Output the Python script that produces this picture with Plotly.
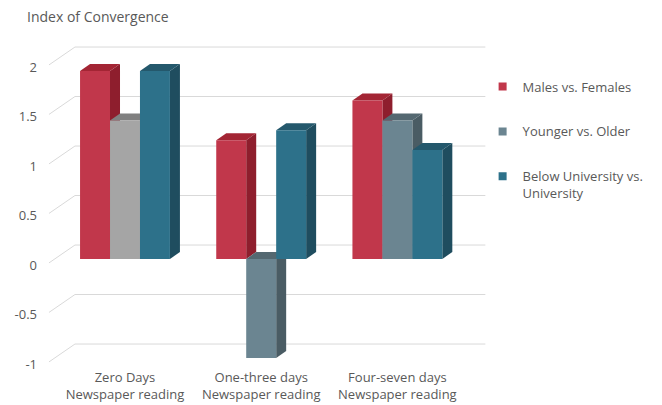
import plotly.graph_objects as go

# ---------------- data ----------------
categories = ["Zero Days<br>Newspaper reading",
              "One-three days<br>Newspaper reading",
              "Four-seven days<br>Newspaper reading"]
series_names = ["Males vs. Females", "Younger vs. Older",
                "Below University vs.<br>University"]
males = [1.9, 1.2, 1.6]
younger = [1.4, -1.0, 1.4]
below_univ = [1.9, 1.3, 1.1]
y_tick_vals = [-1, -0.5, 0, 0.5, 1, 1.5, 2]
y_tick_text = ["-1", "-0.5", "0", "0.5", "1", "1.5", "2"]

# ---------------- styles ----------------
front_colors = [["#C1374B"] * 3,
                ["#A5A5A5", "#6B8591", "#6B8591"],
                ["#2D718A"] * 3]
side_colors = [["#8E1E2D"] * 3,
               ["#7A7A7A", "#4A5C64", "#4A5C64"],
               ["#1F4D5F"] * 3]
top_colors = [["#A32534"] * 3,
              ["#808080", "#546871", "#546871"],
              ["#24586C"] * 3]
legend_colors = ["#C1374B", "#6B8591", "#2D718A"]
text_color = "#595959"
grid_color = "#D9D9D9"
FONT = "Open Sans"

# geometry (axis units)
BAR_W = 0.22            # width of one bar
DEPTH_DX, DEPTH_DY = 0.0734, 0.0707   # bar depth projection
WALL_DX, WALL_DY = 0.147, 0.141       # back wall offset from bar front
FLOOR_DX, FLOOR_DY = -0.044, -0.040   # front edge offset from bar front
X_RANGE = [-0.5653, 2.658]
Y_RANGE = [-1.081, 2.414]

values = [males, younger, below_univ]
n_series = len(values)
x_pos = list(range(len(categories)))
group_w = BAR_W * n_series

fig = go.Figure()

# back-wall gridlines with slanted connectors to the labels
x_front = X_RANGE[0] + 0.007
x_wall = x_front + (WALL_DX - FLOOR_DX)
x_end = X_RANGE[1] - 0.012
for t in y_tick_vals:
    fig.add_trace(go.Scatter(
        x=[x_front, x_wall, x_end],
        y=[t + FLOOR_DY, t + WALL_DY, t + WALL_DY],
        mode="lines", line=dict(color=grid_color, width=1),
        showlegend=False, hoverinfo="skip", xaxis="x", yaxis="y"))

# 3-D side and top faces, drawn left to right
for ci, xc in enumerate(x_pos):
    for si, vals in enumerate(values):
        v = vals[ci]
        xl = xc - group_w / 2 + si * BAR_W
        xr = xl + BAR_W
        lo, hi = min(v, 0), max(v, 0)
        fig.add_trace(go.Scatter(
            x=[xr, xr + DEPTH_DX, xr + DEPTH_DX, xr, xr],
            y=[lo, lo + DEPTH_DY, hi + DEPTH_DY, hi, lo],
            mode="lines", fill="toself", line=dict(width=0),
            fillcolor=side_colors[si][ci],
            showlegend=False, hoverinfo="skip", xaxis="x", yaxis="y"))
        fig.add_trace(go.Scatter(
            x=[xl, xl + DEPTH_DX, xr + DEPTH_DX, xr, xl],
            y=[hi, hi + DEPTH_DY, hi + DEPTH_DY, hi, hi],
            mode="lines", fill="toself", line=dict(width=0),
            fillcolor=top_colors[si][ci],
            showlegend=False, hoverinfo="skip", xaxis="x", yaxis="y"))

# front faces as real bars on an overlaying pair of axes (drawn on top)
for si, vals in enumerate(values):
    fig.add_trace(go.Bar(
        x=x_pos, y=vals, name=series_names[si],
        marker=dict(color=front_colors[si], line=dict(width=0)),
        showlegend=False, xaxis="x2", yaxis="y2"))

# legend entries
for si in range(n_series):
    fig.add_trace(go.Scatter(
        x=[None], y=[None], mode="markers", name=series_names[si],
        marker=dict(symbol="square", size=8, color=legend_colors[si]),
        legendgroup=f"g{si}", xaxis="x", yaxis="y"))

fig.update_layout(
    width=662, height=405,
    margin=dict(l=48, r=175, t=20, b=39, autoexpand=False),
    paper_bgcolor="white", plot_bgcolor="white",
    font=dict(family=FONT, color=text_color, size=13),
    barmode="group", bargap=1 - group_w, bargroupgap=0,
    title=dict(text="Index of Convergence", x=27 / 662, xanchor="left",
               xref="container", y=1 - 17 / 405, yanchor="middle",
               yref="container", automargin=False,
               font=dict(family=FONT, size=14, color=text_color)),
    xaxis=dict(range=X_RANGE, tickvals=x_pos, ticktext=categories,
               showgrid=False, zeroline=False, showline=False, ticks="",
               automargin=False, ticklabelstandoff=2,
               tickfont=dict(size=13, color=text_color)),
    yaxis=dict(range=Y_RANGE, tickvals=y_tick_vals, ticktext=y_tick_text,
               showgrid=False, zeroline=False, showline=False, ticks="",
               automargin=False,
               ticklabelshift=6, ticklabelstandoff=10,
               tickfont=dict(size=13, color=text_color)),
    xaxis2=dict(range=X_RANGE, overlaying="x", anchor="y2", visible=False),
    yaxis2=dict(range=Y_RANGE, overlaying="y", anchor="x2", visible=False),
    legend=dict(x=0.99, xanchor="left", y=0.851, yanchor="top",
                traceorder="grouped", tracegroupgap=25, valign="top",
                font=dict(size=13, color=text_color),
                bgcolor="rgba(0,0,0,0)"),
    showlegend=True,
)

fig.write_html("out.html")
